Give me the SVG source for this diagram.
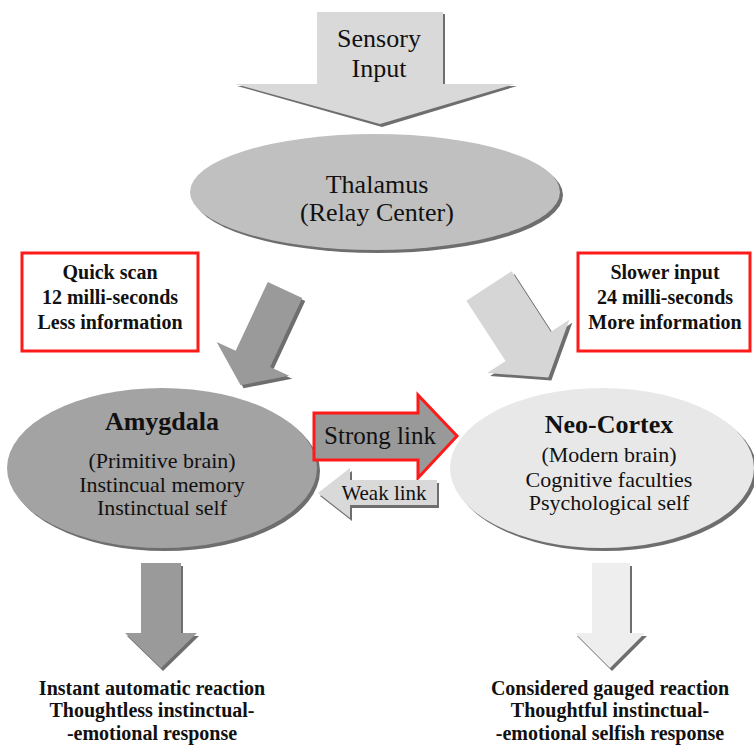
<svg xmlns="http://www.w3.org/2000/svg" width="754" height="745" viewBox="0 0 754 745">
<style>
  text { font-family: 'Liberation Serif', serif; fill: #111; text-anchor: middle; }
  .b { font-weight: bold; }
  .shadow { fill: #6e6e6e; }
  .box { fill: #ffffff; stroke: #ff1a1a; stroke-width: 3; }
</style>
<rect width="754" height="745" fill="#ffffff"/>

<g id="sensory-input">
  <polygon class="shadow" points="319,14 445,14 445,86 517,86 382,127 237,86 319,86"/>
  <polygon fill="#d9d9d9" points="317,12 443,12 443,84 515,84 380,124 235,84 317,84"/>
  <text x="379" y="47" font-size="26">Sensory</text>
  <text x="379" y="77" font-size="26">Input</text>
</g>

<g id="thalamus">
  <ellipse class="shadow" cx="378" cy="195" rx="185" ry="58"/>
  <ellipse fill="#c0c0c0" cx="375" cy="192" rx="185" ry="58"/>
  <text x="377" y="193" font-size="26">Thalamus</text>
  <text x="377" y="221" font-size="26">(Relay Center)</text>
</g>

<g id="quick-scan">
  <rect class="box" x="22" y="253" width="176" height="98"/>
  <text class="b" x="110" y="279" font-size="20">Quick scan</text>
  <text class="b" x="110" y="304" font-size="20">12 milli-seconds</text>
  <text class="b" x="110" y="329" font-size="20">Less information</text>
</g>

<g id="slower-input">
  <rect class="box" x="578" y="253" width="172" height="98"/>
  <text class="b" x="665" y="279" font-size="20">Slower input</text>
  <text class="b" x="665" y="304" font-size="20">24 milli-seconds</text>
  <text class="b" x="665" y="329" font-size="20">More information</text>
</g>

<g id="amygdala">
  <ellipse class="shadow" cx="165" cy="471" rx="155" ry="80"/>
  <ellipse fill="#a3a3a3" cx="162" cy="468" rx="155" ry="80"/>
  <text class="b" x="162" y="430" font-size="26">Amygdala</text>
  <text x="162" y="468" font-size="22">(Primitive brain)</text>
  <text x="162" y="492" font-size="22">Instincual memory</text>
  <text x="162" y="515" font-size="22">Instinctual self</text>
</g>

<g id="neo-cortex">
  <ellipse class="shadow" cx="605" cy="471" rx="152" ry="80"/>
  <ellipse fill="#e8e8e8" cx="602" cy="468" rx="152" ry="80"/>
  <text class="b" x="609" y="433" font-size="26">Neo-Cortex</text>
  <text x="609" y="462" font-size="22">(Modern brain)</text>
  <text x="609" y="487" font-size="22">Cognitive faculties</text>
  <text x="609" y="510" font-size="22">Psychological self</text>
</g>

<g id="instant-reaction">
  <text class="b" x="152" y="695" font-size="20">Instant automatic reaction</text>
  <text class="b" x="152" y="717" font-size="20">Thoughtless instinctual-</text>
  <text class="b" x="152" y="740" font-size="20">-emotional response</text>
</g>

<g id="considered-reaction">
  <text class="b" x="610" y="695" font-size="20">Considered gauged reaction</text>
  <text class="b" x="610" y="717" font-size="20">Thoughtful instinctual-</text>
  <text class="b" x="610" y="740" font-size="20">-emotional selfish response</text>
</g>

<g id="connectors">
  <g id="thalamus-to-amygdala">
    <polygon class="shadow" transform="translate(288,293) rotate(25)" points="-19,0 19,0 19,76 40,76 0,105 -40,76 -19,76"/>
    <polygon fill="#9a9a9a" transform="translate(285,290) rotate(25)" points="-19,0 19,0 19,76 40,76 0,105 -40,76 -19,76"/>
  </g>
  <g id="thalamus-to-neocortex">
    <polygon class="shadow" transform="translate(492,289) rotate(-33)" points="-27,0 27,0 27,72 49,72 0,109 -49,72 -27,72"/>
    <polygon fill="#d6d6d6" transform="translate(489,286) rotate(-33)" points="-27,0 27,0 27,72 49,72 0,109 -49,72 -27,72"/>
  </g>
  <g id="strong-link">
    <polygon fill="#999999" stroke="#ff1a1a" stroke-width="3" stroke-linejoin="miter" points="314,413 418,413 418,395 457,436 418,478 418,460 314,460"/>
    <text x="380" y="444" font-size="25">Strong link</text>
  </g>
  <g id="weak-link">
    <polygon class="shadow" points="439,483 352,483 352,471 320,496 352,521 352,508 439,508"/>
    <polygon fill="#d9d9d9" points="437,480 350,480 350,468 318,493 350,518 350,505 437,505"/>
    <text x="384" y="500" font-size="21">Weak link</text>
  </g>
  <g id="amygdala-to-reaction">
    <polygon class="shadow" points="143,566 183,566 183,636 199,636 163,671 127,636 143,636"/>
    <polygon fill="#9a9a9a" points="141,563 181,563 181,633 197,633 161,668 125,633 141,633"/>
  </g>
  <g id="neocortex-to-reaction">
    <polygon class="shadow" points="594,566 632,566 632,636 647,636 612,671 577,636 594,636"/>
    <polygon fill="#eeeeee" points="592,563 630,563 630,633 645,633 610,668 575,633 592,633"/>
  </g>
</g>
</svg>
